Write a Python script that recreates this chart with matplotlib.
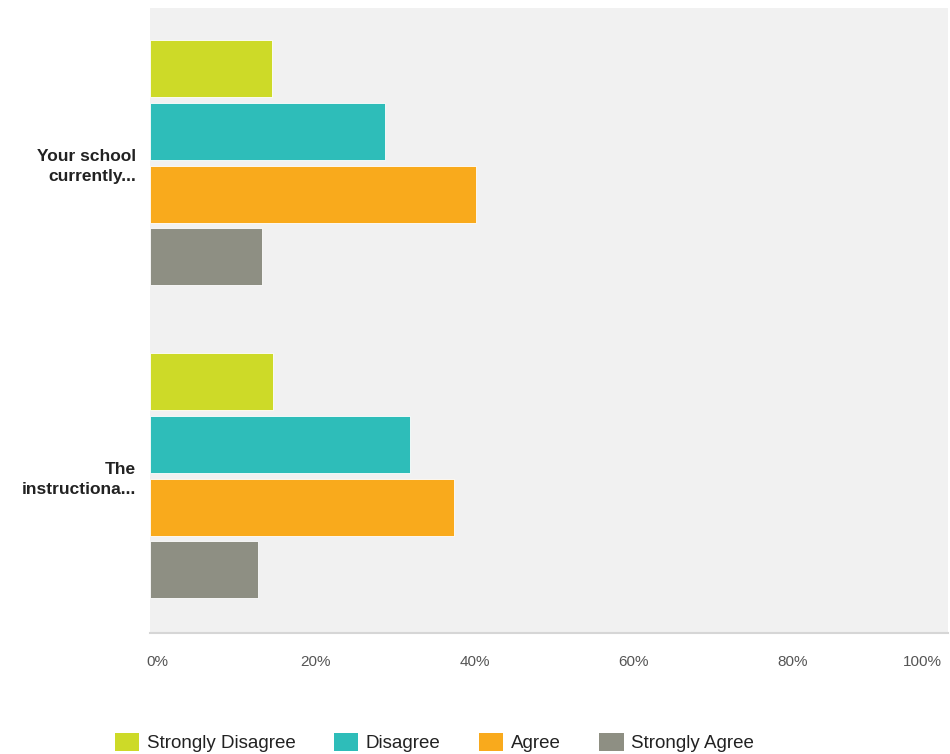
import numpy as np
import matplotlib.pyplot as plt
from matplotlib.patches import Patch
from matplotlib.transforms import ScaledTranslation

# survey responses, percent of respondents per statement
statements = ["Your school\ncurrently...", "The\ninstructiona..."]
answers = ["Strongly Disagree", "Disagree", "Agree", "Strongly Agree"]
strongly_disagree = [15.3, 15.5]
disagree = [29.6, 32.7]
agree = [41.0, 38.2]
strongly_agree = [14.1, 13.6]
xticks = [0, 20, 40, 60, 80, 100]
xtick_labels = ["0%", "20%", "40%", "60%", "80%", "100%"]

colors = ["#cdda28", "#2ebdb9", "#f9aa1c", "#8e8f83"]

plt.rcParams['font.family'] = ['Liberation Sans', 'DejaVu Sans']

fig = plt.figure(figsize=(9.5, 7.54), dpi=100)
ax = fig.add_axes([150 / 950, 1 - 633 / 754, 798 / 950, 625 / 754])
ax.set_facecolor("#f1f1f1")

series = [strongly_disagree, disagree, agree, strongly_agree]
y = np.arange(len(statements))
pitch = 0.201
height = 0.182
for i, (vals, col) in enumerate(zip(series, colors)):
    ax.barh(y + (i - 1.5) * pitch, vals, height=height, color=col,
            edgecolor="white", linewidth=0.6, label=answers[i])

ax.set_xlim(0, 100.4)
ax.set_ylim(1.503, -0.494)

ax.set_yticks(y)
ax.set_yticklabels(statements, fontsize=12.5, fontweight="bold", color="#222222",
                   linespacing=1.4)
ax.set_xticks(xticks)
ax.set_xticklabels([])
ax.tick_params(axis="x", length=0)
ax.tick_params(axis="y", length=0, pad=10)

# percent labels sit a little right of their ticks; the last one is kept inside
base = ax.get_xaxis_transform()
for val, txt in zip(xticks, xtick_labels):
    dx = 7 if val < 100 else -3
    ha = "center" if val < 100 else "right"
    ax.text(val, 0, txt, transform=base + ScaledTranslation(dx / 100, -29 / 100, fig.dpi_scale_trans),
            ha=ha, va="center", fontsize=11, color="#555555")

for side in ["top", "right", "left"]:
    ax.spines[side].set_visible(False)
ax.spines["bottom"].set_color("#d6d6d6")
ax.spines["bottom"].set_linewidth(1.5)

handles = [Patch(facecolor=c, edgecolor="none") for c in colors]
fig.legend(handles, answers, loc="lower left", bbox_to_anchor=(98 / 950, -0.02),
           ncol=4, frameon=False, fontsize=13.5, handlelength=1.3, handleheight=1.1,
           handletextpad=0.4, columnspacing=2.05, labelcolor="#222222")

fig.savefig("out.png", dpi=100, facecolor="white")
